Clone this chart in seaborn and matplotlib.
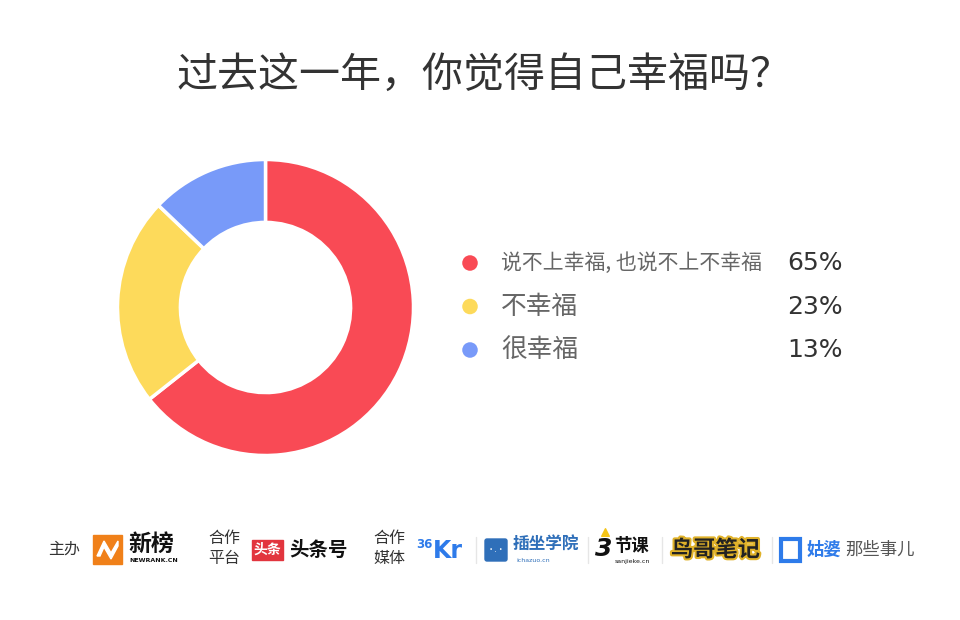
import matplotlib
matplotlib.use("Agg")
import matplotlib.pyplot as plt
import matplotlib.patheffects as pe
import seaborn as sns
import pandas as pd
from matplotlib.patches import Rectangle, FancyBboxPatch, Polygon

sns.set_theme(style="white")
plt.rcParams['font.family'] = ['Noto Sans CJK SC', 'DejaVu Sans']

title = "过去这一年，你觉得自己幸福吗？"
categories = ["说不上幸福，也说不上不幸福", "不幸福", "很幸福"]
legend_labels = ["说不上幸福, 也说不上不幸福", "不幸福", "很幸福"]
values = [65, 23, 13]
colors = ["#F94A55", "#FDDA5B", "#789AF9"]

df = pd.DataFrame({"category": categories, "value": values})

W, H = 960, 620
fig = plt.figure(figsize=(W / 100, H / 100), dpi=100)
fig.patch.set_facecolor("white")

# overlay axes in pixel coordinates
ov = fig.add_axes([0, 0, 1, 1])

# donut
cx, cy, r = 265.5, 307.5, 148
ax = fig.add_axes([(cx - r) / W, (H - cy - r) / H, 2 * r / W, 2 * r / H])
ax.pie(df["value"], colors=colors, startangle=90, counterclock=False,
       radius=1.0, wedgeprops=dict(width=0.425, edgecolor="white", linewidth=2.5))
ax.set_xlim(-1, 1)
ax.set_ylim(-1, 1)
ax.set_aspect("equal")
ax.axis("off")

# legend markers
rows_y = [263, 306.5, 350]
ldf = pd.DataFrame({"x": [470] * 3, "y": rows_y, "cat": categories})
sns.scatterplot(data=ldf, x="x", y="y", hue="cat", palette=colors, s=125,
                edgecolor="none", legend=False, ax=ov)
ov.set_xlim(0, W)
ov.set_ylim(H, 0)
ov.axis("off")

# title
ov.text(176, 75, title, ha="left", va="center", fontsize=29.5, color="#333333")

label_sizes = [15, 18.5, 18.5]
for y, lab, v, fs in zip(rows_y, legend_labels, values, label_sizes):
    ov.text(501, y, lab, ha="left", va="center", fontsize=fs, color="#666666")
    ov.text(843, y, f"{v}%", ha="right", va="center", fontsize=18, color="#333333",
            family=["DejaVu Sans"])

# footer
fy = 549
ov.text(48, fy, "主办", ha="left", va="center", fontsize=11.5, color="#333333")
ov.add_patch(Rectangle((93, 535), 29, 29, color="#F08019"))
ov.add_patch(Polygon([(97, 556), (104, 541), (111, 553), (118, 541), (118, 546),
                      (111, 559), (104, 547), (100, 556)], closed=True, color="white"))
ov.text(128, 544, "新榜", ha="left", va="center", fontsize=16.5, color="#111111", fontweight="bold")
ov.text(129, 561, "NEWRANK.CN", ha="left", va="center", fontsize=4.5, color="#111111",
        fontweight="bold", family=["DejaVu Sans"])

ov.text(208, 539, "合作", ha="left", va="center", fontsize=11.5, color="#333333")
ov.text(208, 559, "平台", ha="left", va="center", fontsize=11.5, color="#333333")
ov.add_patch(Rectangle((252, 540), 31, 20, color="#E2353E"))
ov.text(267.5, 550, "头条", ha="center", va="center", fontsize=10, color="white", fontweight="bold")
ov.text(289, 550, "头条号", ha="left", va="center", fontsize=14, color="#111111", fontweight="bold")

ov.text(373, 539, "合作", ha="left", va="center", fontsize=11.5, color="#333333")
ov.text(373, 559, "媒体", ha="left", va="center", fontsize=11.5, color="#333333")
ov.text(416, 544, "36", ha="left", va="center", fontsize=8.5, color="#2E7BEA", fontweight="bold",
        family=["DejaVu Sans"])
ov.text(433, 551, "Kr", ha="left", va="center", fontsize=17, color="#2E7BEA", fontweight="bold",
        family=["DejaVu Sans"])

for sx in [476, 588, 662, 772]:
    ov.plot([sx, sx], [537, 563], color="#E6E6E6", lw=1)

ov.add_patch(FancyBboxPatch((485, 539), 22, 22, boxstyle="round,pad=0,rounding_size=2",
                            color="#2F6FB9"))
ov.text(496, 550, "·.·", ha="center", va="center", fontsize=6, color="white")
ov.text(513, 545, "插坐学院", ha="left", va="center", fontsize=12, color="#2F6FB9", fontweight="bold")
ov.text(516, 561, "ichazuo.cn", ha="left", va="center", fontsize=4.5, color="#2F6FB9",
        family=["DejaVu Sans"])

ov.text(595, 549, "3", ha="left", va="center", fontsize=18, color="#111111", fontweight="bold",
        fontstyle="italic", family=["DejaVu Sans"])
ov.text(614, 546, "节课", ha="left", va="center", fontsize=12.5, color="#111111", fontweight="bold")
ov.text(615, 561, "sanjieke.cn", ha="left", va="center", fontsize=4.5, color="#111111",
        family=["DejaVu Sans"])
ov.scatter([605], [532], marker="^", s=30, color="#F5C518")

ov.text(671, 550, "鸟哥笔记", ha="left", va="center", fontsize=16, color="#222222",
        fontweight="bold", path_effects=[pe.withStroke(linewidth=3, foreground="#E0B22A")])

ov.add_patch(Rectangle((781, 539), 19, 22, facecolor="none", edgecolor="#2E7BEA", lw=3))
ov.text(807, 550, "姑婆", ha="left", va="center", fontsize=12.5, color="#2E7BEA", fontweight="bold")
ov.text(845, 550, "那些事儿", ha="left", va="center", fontsize=12.5, color="#555555")

fig.savefig("out.png", dpi=100, facecolor="white")
